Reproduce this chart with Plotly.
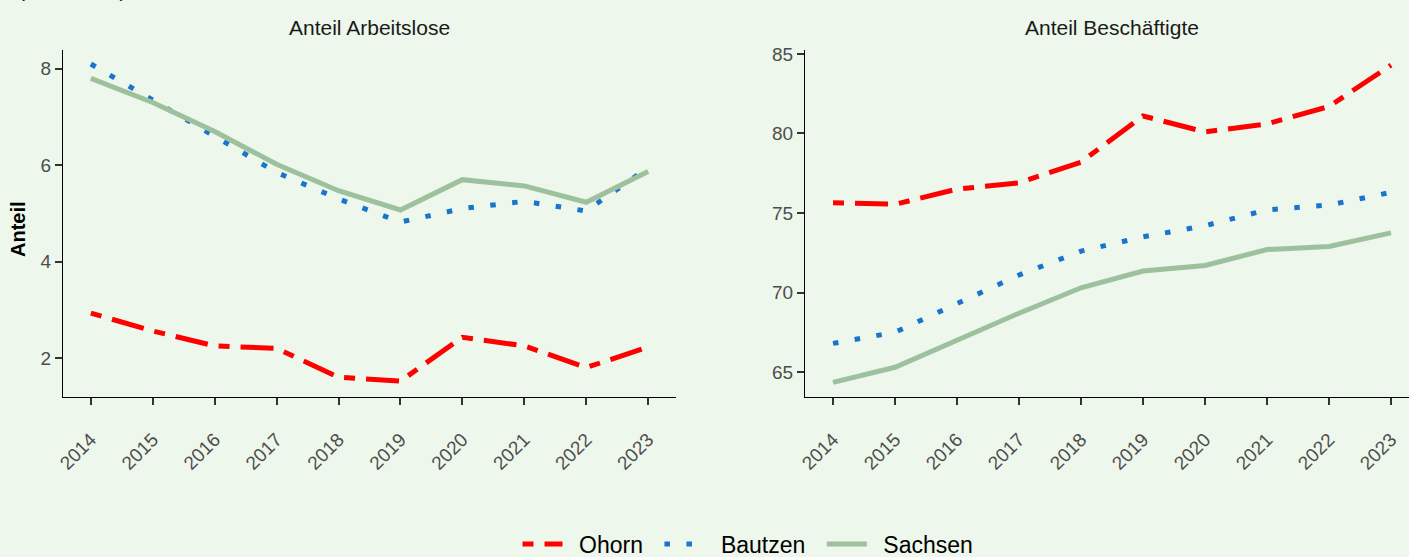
import plotly.graph_objects as go

years = [2014, 2015, 2016, 2017, 2018, 2019, 2020, 2021, 2022, 2023]
year_labels = [str(y) for y in years]

# Anteil Arbeitslose
alo_ohorn = [2.93, 2.56, 2.25, 2.20, 1.60, 1.52, 2.43, 2.25, 1.80, 2.23]
alo_bautzen = [8.10, 7.35, 6.60, 5.85, 5.30, 4.82, 5.10, 5.25, 5.05, 5.95]
alo_sachsen = [7.80, 7.30, 6.70, 6.02, 5.47, 5.07, 5.70, 5.57, 5.23, 5.87]

# Anteil Beschäftigte
besch_ohorn = [75.65, 75.55, 76.50, 76.90, 78.20, 81.10, 80.10, 80.60, 81.70, 84.30]
besch_bautzen = [66.80, 67.50, 69.30, 71.10, 72.60, 73.50, 74.20, 75.20, 75.50, 76.30]
besch_sachsen = [64.35, 65.30, 67.00, 68.70, 70.30, 71.35, 71.70, 72.70, 72.90, 73.75]

series_names = ["Ohorn", "Bautzen", "Sachsen"]
legend_labels = ["\u2002Ohorn\u2002", "\u2002Bautzen\u2002", "\u2002Sachsen"]
colors = ["#FF0000", "#1874CD", "#9DC19D"]
dashes = ["11px,11px,33px,11px", "5.5px,16.5px", "solid"]
widths = [5, 5, 5]

BG = "#EDF7EB"
FONT = "Liberation Sans, Arial, sans-serif"

W, H = 1409, 557

fig = go.Figure()

left = [alo_ohorn, alo_bautzen, alo_sachsen]
right = [besch_ohorn, besch_bautzen, besch_sachsen]

for i, name in enumerate(series_names):
    fig.add_trace(go.Scatter(
        x=years, y=left[i], mode="lines", name=legend_labels[i],
        line=dict(color=colors[i], width=widths[i], dash=dashes[i]),
        xaxis="x", yaxis="y", showlegend=True, legendgroup=name))
for i, name in enumerate(series_names):
    fig.add_trace(go.Scatter(
        x=years, y=right[i], mode="lines", name=legend_labels[i],
        line=dict(color=colors[i], width=widths[i], dash=dashes[i]),
        xaxis="x2", yaxis="y2", showlegend=False, legendgroup=name))

axis_common = dict(
    showline=True, linecolor="black", linewidth=1.2,
    ticks="outside", ticklen=7, tickwidth=2, tickcolor="#333333",
    showgrid=False, zeroline=False, automargin=False,
    tickfont=dict(family=FONT, size=19, color="#4D4D4D"),
)

x_common = dict(axis_common, tickmode="array", tickvals=years, ticktext=year_labels,
                tickangle=-45, ticklabelstandoff=16)

fig.update_layout(
    width=W, height=H, autosize=False,
    paper_bgcolor=BG, plot_bgcolor=BG,
    margin=dict(l=0, r=0, t=0, b=0, pad=0, autoexpand=False),
    font=dict(family=FONT, color="black"),
    xaxis=dict(x_common, domain=[63 / W, 676 / W], anchor="y",
               range=[2013.55, 2023.45]),
    yaxis=dict(axis_common, domain=[1 - 397 / H, 1 - 50 / H], anchor="x",
               range=[1.19, 8.39], tickvals=[2, 4, 6, 8]),
    xaxis2=dict(x_common, domain=[805 / W, 1.0], anchor="y2",
                range=[2013.548, 2023.29]),
    yaxis2=dict(axis_common, domain=[1 - 397 / H, 1 - 50 / H], anchor="x2",
                range=[63.43, 85.25], tickvals=[65, 70, 75, 80, 85]),
    legend=dict(orientation="h", x=748 / W, xanchor="center", y=13 / H, yanchor="middle",
                font=dict(family=FONT, size=23, color="black"),
                bgcolor="rgba(0,0,0,0)", itemwidth=40, tracegroupgap=0),
    showlegend=True,
)

fig.add_annotation(text="Anteil Arbeitslose", xref="paper", yref="paper",
                   x=369 / W, y=1 - 27 / H, xanchor="center", yanchor="middle",
                   showarrow=False, font=dict(family=FONT, size=21, color="#1A1A1A"))
fig.add_annotation(text="Anteil Beschäftigte", xref="paper", yref="paper",
                   x=1112 / W, y=1 - 27 / H, xanchor="center", yanchor="middle",
                   showarrow=False, font=dict(family=FONT, size=21, color="#1A1A1A"))
fig.add_annotation(text="<b>Anteil</b>", xref="paper", yref="paper",
                   x=18 / W, y=1 - 229 / H, xanchor="center", yanchor="middle",
                   textangle=-90, showarrow=False,
                   font=dict(family=FONT, size=20, color="black"))
fig.add_annotation(text="(in Prozent)", xref="paper", yref="paper",
                   x=16 / W, y=1 + 10 / H, xanchor="left", yanchor="middle",
                   showarrow=False, font=dict(family=FONT, size=21, color="#1A1A1A"))

fig.write_html("out.html",
               config={"displayModeBar": False, "responsive": False},
               post_script="document.body.style.margin='0px';document.body.style.overflow='hidden';")
